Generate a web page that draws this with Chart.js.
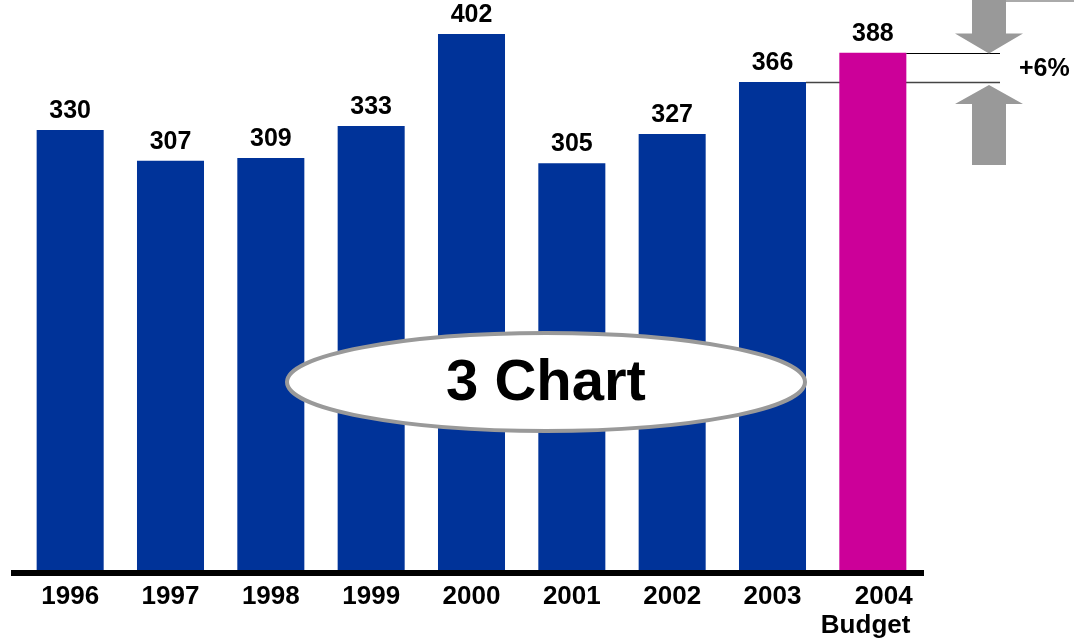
<!DOCTYPE html>
<html>
<head>
<meta charset="utf-8">
<script src="https://cdn.jsdelivr.net/npm/chart.js@4/dist/chart.umd.min.js"></script>
<style>
  html, body { margin: 0; padding: 0; background: #fff; }
  #wrap { width: 1074px; height: 641px; position: relative; }
</style>
</head>
<body>
<div id="wrap"><canvas id="budgetChart"></canvas></div>
<script>
// 연도별 값 (2004년은 예산)
const years = ['1996', '1997', '1998', '1999', '2000', '2001', '2002', '2003', ['   2004', 'Budget  ']];
const values = [330, 307, 309, 333, 402, 305, 327, 366, 388];
const barColors = ['#003399', '#003399', '#003399', '#003399', '#003399', '#003399', '#003399', '#003399', '#cc0099'];
const growthText = '+6%';
const centerText = '3 Chart';

const FONT = 'Arial, "Liberation Sans", sans-serif';

// 기준선, 막대 위 숫자, 증감 표시, 가운데 타원
const decorPlugin = {
    id: 'decor',
    beforeDatasetsDraw(chart) {
        // 2003년 값 높이의 가로선 (예산 막대 뒤로 지나감)
        const ctx = chart.ctx;
        const meta = chart.getDatasetMeta(0);
        const y = chart.scales.y;
        const prev = meta.data[7];
        const yPrev = Math.round(y.getPixelForValue(values[7])) + 0.5;
        ctx.save();
        ctx.strokeStyle = '#444';
        ctx.lineWidth = 1.5;
        ctx.beginPath();
        ctx.moveTo(prev.x + prev.width / 2, yPrev);
        ctx.lineTo(chart.chartArea.right + 77, yPrev);
        ctx.stroke();
        ctx.restore();
    },
    afterDatasetsDraw(chart) {
        const ctx = chart.ctx;
        const area = chart.chartArea;
        const meta = chart.getDatasetMeta(0);
        const y = chart.scales.y;

        // 막대 위 숫자
        ctx.save();
        ctx.fillStyle = '#000';
        ctx.font = 'bold 25px ' + FONT;
        ctx.textAlign = 'center';
        ctx.textBaseline = 'alphabetic';
        meta.data.forEach((bar, i) => {
            ctx.fillText(String(values[i]), bar.x, bar.y - 12);
        });

        // 기준선
        const y0 = y.getPixelForValue(0);
        ctx.fillStyle = '#000';
        ctx.fillRect(area.left - 9, y0, area.right - area.left + 10, 6);

        // 2004 예산선
        const last = meta.data[8];
        const yLast = Math.round(y.getPixelForValue(values[8])) + 0.5;
        ctx.strokeStyle = '#000';
        ctx.lineWidth = 1;
        ctx.beginPath();
        ctx.moveTo(last.x + last.width / 2, yLast);
        ctx.lineTo(area.right + 77, yLast);
        ctx.stroke();

        // 화살표
        const yPrev = y.getPixelForValue(values[7]);
        const ax = area.right + 66;
        ctx.fillStyle = '#999999';
        ctx.beginPath();
        ctx.moveTo(ax - 17, 0);
        ctx.lineTo(ax + 17, 0);
        ctx.lineTo(ax + 17, yLast - 20);
        ctx.lineTo(ax + 34, yLast - 20);
        ctx.lineTo(ax, yLast);
        ctx.lineTo(ax - 34, yLast - 20);
        ctx.lineTo(ax - 17, yLast - 20);
        ctx.closePath();
        ctx.fill();

        const tip = yPrev + 3;
        ctx.beginPath();
        ctx.moveTo(ax, tip);
        ctx.lineTo(ax + 34, tip + 19);
        ctx.lineTo(ax + 17, tip + 19);
        ctx.lineTo(ax + 17, tip + 80);
        ctx.lineTo(ax - 17, tip + 80);
        ctx.lineTo(ax - 17, tip + 19);
        ctx.lineTo(ax - 34, tip + 19);
        ctx.closePath();
        ctx.fill();

        ctx.strokeStyle = '#aaaaaa';
        ctx.lineWidth = 2;
        ctx.beginPath();
        ctx.moveTo(ax + 17, 1);
        ctx.lineTo(chart.width, 1);
        ctx.stroke();

        ctx.fillStyle = '#000';
        ctx.font = 'bold 25px ' + FONT;
        ctx.textAlign = 'left';
        ctx.textBaseline = 'middle';
        ctx.fillText(growthText, area.right + 96, (yLast + yPrev) / 2 + 1);

        // 가운데 타원
        const cx = 546, cy = 382;
        ctx.beginPath();
        ctx.ellipse(cx, cy, 259, 49, 0, 0, Math.PI * 2);
        ctx.fillStyle = '#fff';
        ctx.fill();
        ctx.strokeStyle = '#999999';
        ctx.lineWidth = 4;
        ctx.stroke();
        ctx.fillStyle = '#000';
        ctx.font = 'bold 58px ' + FONT;
        ctx.textAlign = 'center';
        ctx.textBaseline = 'middle';
        ctx.fillText(centerText, cx, cy + 2);
        ctx.restore();
    }
};

const ctx = document.getElementById('budgetChart').getContext('2d');
new Chart(ctx, {
    type: 'bar',
    data: {
        labels: years,
        datasets: [{
            data: values,
            backgroundColor: barColors,
            borderWidth: 0,
            categoryPercentage: 1,
            barPercentage: 0.668
        }]
    },
    options: {
        responsive: true,
        maintainAspectRatio: false,
        animation: false,
        layout: {
            padding: { left: 20, right: 151, top: 30, bottom: 0 }
        },
        plugins: {
            legend: { display: false },
            tooltip: { enabled: false }
        },
        scales: {
            x: {
                grid: { display: false },
                border: { display: false },
                afterFit(scale) { scale.height = 71; },
                ticks: {
                    color: '#000',
                    padding: 5,
                    maxRotation: 0,
                    autoSkip: false,
                    font: { family: FONT, size: 26, weight: 'bold', lineHeight: 1.1 }
                }
            },
            y: {
                display: false,
                min: 0,
                max: 405
            }
        }
    },
    plugins: [decorPlugin]
});
</script>
</body>
</html>
